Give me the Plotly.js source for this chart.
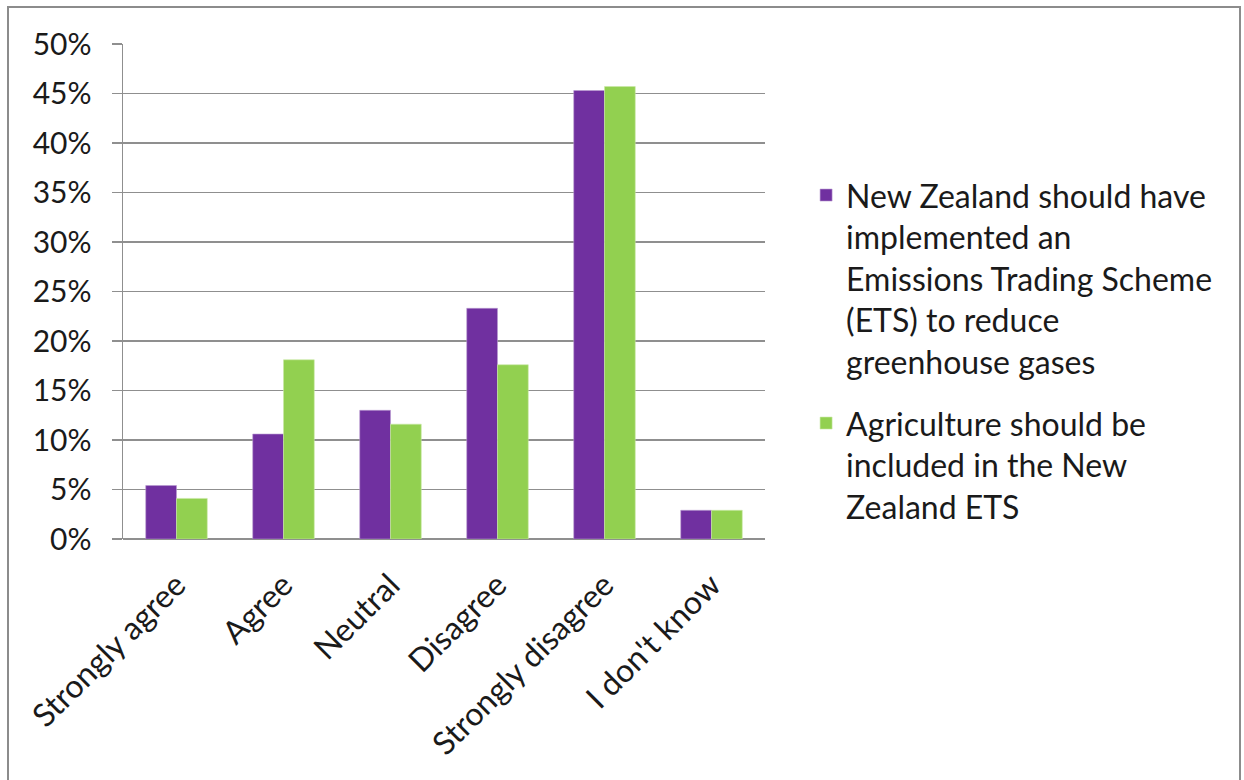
<!DOCTYPE html>
<html>
<head>
<meta charset="utf-8">
<script src="https://cdn.plot.ly/plotly-3.0.1.min.js"></script>
<style>
  html, body { margin: 0; padding: 0; background: #ffffff; }
  #wrap { position: relative; width: 1244px; height: 780px; overflow: hidden; }
  #chart { width: 1244px; height: 780px; }
  #frame {
    position: absolute; left: 7px; top: 6px; width: 1234px; height: 790px;
    border: 2px solid #8c8c8c; pointer-events: none; box-sizing: border-box;
  }
</style>
</head>
<body>
<div id="wrap">
  <div id="chart"></div>
  <div id="frame"></div>
</div>
<script>
// Survey response categories
const categories = ['Strongly agree', 'Agree', 'Neutral', 'Disagree', 'Strongly disagree', "I don't know"];

// Share of respondents (%) for each statement
const etsShare = [5.4, 10.6, 13.0, 23.3, 45.3, 2.9];
const agricultureShare = [4.1, 18.1, 11.6, 17.6, 45.7, 2.9];

// Series names as shown in the legend
const etsName = 'New Zealand should have<br>implemented an<br>Emissions Trading Scheme<br>(ETS) to reduce<br>greenhouse gases';
const agricultureName = 'Agriculture should be<br>included in the New<br>Zealand ETS';

// Y-axis ticks
const yTicks = [0, 5, 10, 15, 20, 25, 30, 35, 40, 45, 50];
const yTickText = yTicks.map(v => v + '%');

const FONT = 'Lato, Open Sans, sans-serif';

const traces = [
  {
    type: 'bar', name: etsName, x: categories, y: etsShare, legendgroup: 'ets',
    marker: { color: '#7030A0', line: { color: '#b89bd0', width: 0.6 } },
    hoverinfo: 'x+y'
  },
  {
    type: 'bar', name: agricultureName, x: categories, y: agricultureShare, legendgroup: 'agri',
    marker: { color: '#92D050', line: { color: '#c9eaa6', width: 0.6 } },
    hoverinfo: 'x+y'
  }
];

const layout = {
  width: 1244, height: 780,
  margin: { l: 123, r: 479, t: 44, b: 241 },
  paper_bgcolor: '#ffffff', plot_bgcolor: '#ffffff',
  barmode: 'group', bargap: 0.425, bargroupgap: 0,
  font: { family: FONT, color: '#1a1a1a', size: 30 },
  xaxis: {
    type: 'category',
    tickangle: -45,
    tickfont: { family: FONT, size: 32, color: '#1a1a1a' },
    showgrid: false, zeroline: false,
    showline: false, ticks: '', automargin: false,
    ticklabelstandoff: 20
  },
  yaxis: {
    range: [0, 50], tickvals: yTicks, ticktext: yTickText,
    tickfont: { family: FONT, size: 30, color: '#1a1a1a' },
    showgrid: true, gridcolor: '#8f8f8f', gridwidth: 1.5,
    zeroline: true, zerolinecolor: '#8f8f8f', zerolinewidth: 1.5,
    showline: true, linecolor: '#8f8f8f', linewidth: 1.5,
    ticks: 'outside', ticklen: 10, tickcolor: '#8f8f8f', tickwidth: 1.5,
    ticklabelstandoff: 14, automargin: false
  },
  showlegend: true,
  legend: {
    x: 1.064, xanchor: 'left', y: 0.75, yanchor: 'top',
    font: { family: FONT, size: 32, color: '#1a1a1a' },
    valign: 'top', tracegroupgap: 17, itemwidth: 30,
    bgcolor: 'rgba(0,0,0,0)', borderwidth: 0
  }
};

Plotly.newPlot('chart', traces, layout, { displayModeBar: false, staticPlot: true });
</script>
</body>
</html>
